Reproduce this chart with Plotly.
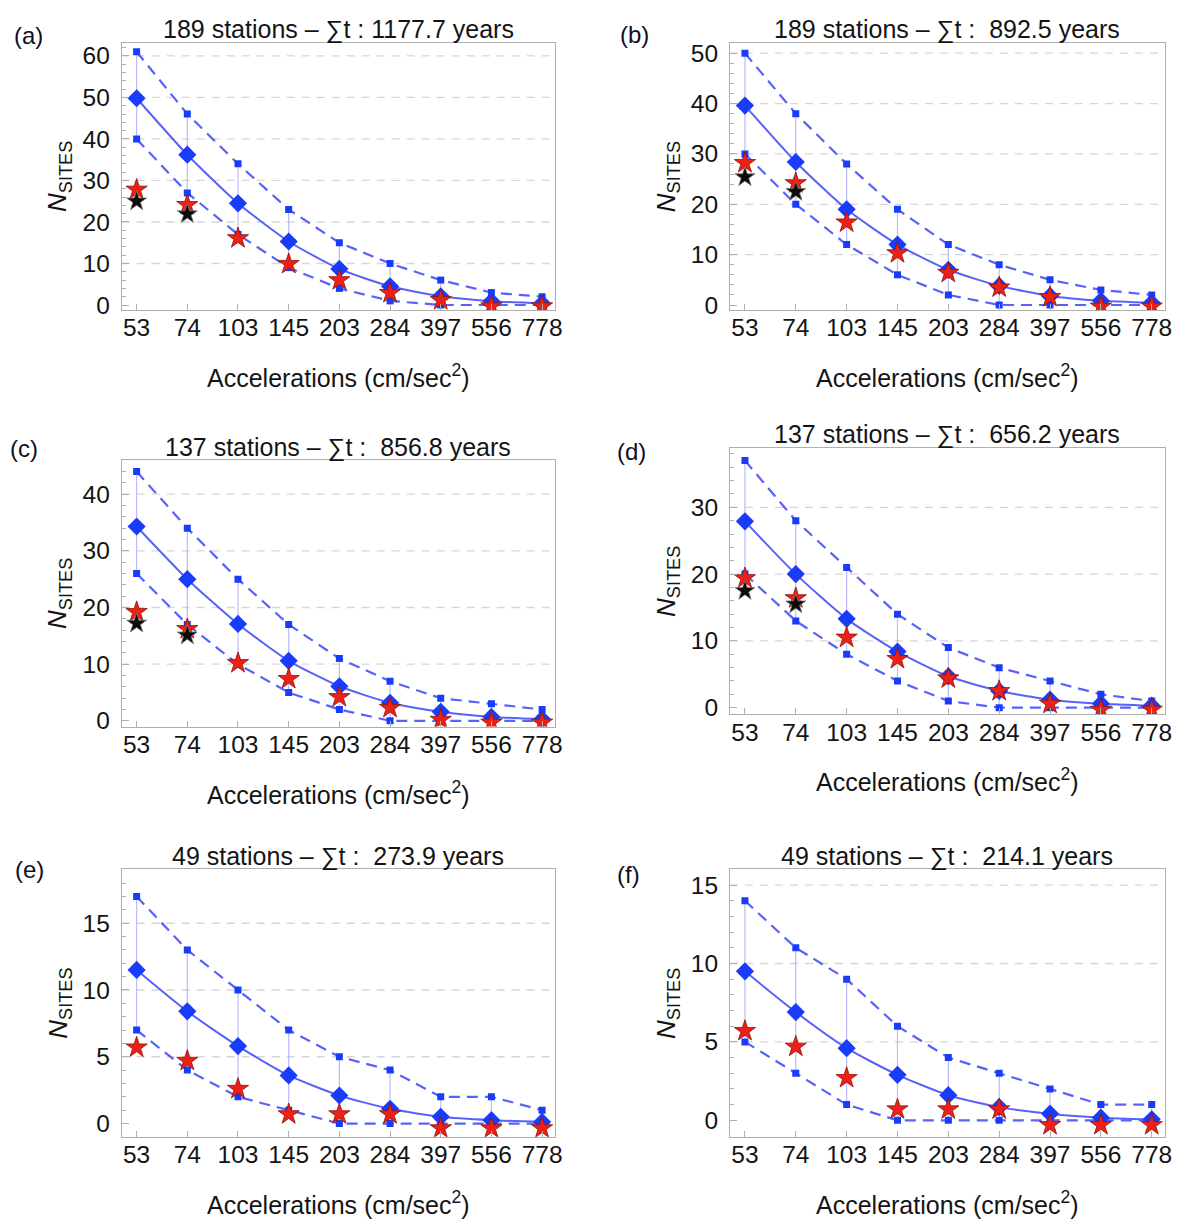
import plotly.graph_objects as go
from plotly.subplots import make_subplots

# Acceleration bins (cm/sec^2) shared by every panel
accel = ["53", "74", "103", "145", "203", "284", "397", "556", "778"]

panel_tags = ["(a)", "(b)", "(c)", "(d)", "(e)", "(f)"]
stations = [189, 189, 137, 137, 49, 49]
total_years = [1177.7, 892.5, 856.8, 656.2, 273.9, 214.1]

# Panel (a)
upper_a = [61, 46, 34, 23, 15, 10, 6, 3, 2]
mean_a = [49.8, 36.2, 24.5, 15.3, 8.7, 4.5, 2.1, 0.9, 0.4]
lower_a = [40, 27, 17, 9, 4, 1, 0, 0, 0]
obs_red_a = [27.8, 24.1, 16.1, 9.9, 6.0, 2.9, 1.2, -0.3, -0.3]
obs_black_a = [25.0, 21.9]

# Panel (b)
upper_b = [50, 38, 28, 19, 12, 8, 5, 3, 2]
mean_b = [39.6, 28.4, 19.0, 12.0, 7.0, 3.8, 1.8, 0.85, 0.45]
lower_b = [30, 20, 12, 6, 2, 0, 0, 0, 0]
obs_red_b = [28.2, 24.2, 16.4, 10.3, 6.4, 3.5, 1.6, -0.3, -0.3]
obs_black_b = [25.4, 22.5]

# Panel (c)
upper_c = [44, 34, 25, 17, 11, 7, 4, 3, 2]
mean_c = [34.3, 25.0, 17.1, 10.6, 6.1, 3.2, 1.6, 0.7, 0.3]
lower_c = [26, 17, 10, 5, 2, 0, 0, 0, 0]
obs_red_c = [19.2, 16.2, 10.2, 7.4, 4.2, 2.3, 0.2, -0.3, -0.3]
obs_black_c = [17.2, 15.1]

# Panel (d)
upper_d = [37, 28, 21, 14, 9, 6, 4, 2, 1]
mean_d = [27.9, 20.0, 13.3, 8.4, 4.7, 2.5, 1.2, 0.6, 0.3]
lower_d = [20, 13, 8, 4, 1, 0, 0, 0, 0]
obs_red_d = [19.4, 16.4, 10.5, 7.3, 4.4, 2.5, 0.6, -0.3, -0.3]
obs_black_d = [17.5, 15.5]

# Panel (e)
upper_e = [17, 13, 10, 7, 5, 4, 2, 2, 1]
mean_e = [11.5, 8.4, 5.8, 3.6, 2.1, 1.1, 0.5, 0.25, 0.12]
lower_e = [7, 4, 2, 1, 0, 0, 0, 0, 0]
obs_red_e = [5.7, 4.7, 2.6, 0.7, 0.7, 0.7, -0.35, -0.35, -0.35]
obs_black_e = []

# Panel (f)
upper_f = [14, 11, 9, 6, 4, 3, 2, 1, 1]
mean_f = [9.5, 6.9, 4.6, 2.9, 1.6, 0.84, 0.42, 0.17, 0.06]
lower_f = [5, 3, 1, 0, 0, 0, 0, 0, 0]
obs_red_f = [5.7, 4.7, 2.7, 0.7, 0.7, 0.7, -0.3, -0.3, -0.3]
obs_black_f = []

# y-axis tick values per panel
yticks_a = [0, 10, 20, 30, 40, 50, 60]
yticks_b = [0, 10, 20, 30, 40, 50]
yticks_c = [0, 10, 20, 30, 40]
yticks_d = [0, 10, 20, 30]
yticks_e = [0, 5, 10, 15]
yticks_f = [0, 5, 10, 15]

panels = [
    (upper_a, mean_a, lower_a, obs_red_a, obs_black_a, yticks_a, 2, [-1.19, 63.2]),
    (upper_b, mean_b, lower_b, obs_red_b, obs_black_b, yticks_b, 2, [-0.98, 52.1]),
    (upper_c, mean_c, lower_c, obs_red_c, obs_black_c, yticks_c, 2, [-1.0, 46.0]),
    (upper_d, mean_d, lower_d, obs_red_d, obs_black_d, yticks_d, 2, [-0.98, 38.9]),
    (upper_e, mean_e, lower_e, obs_red_e, obs_black_e, yticks_e, 1, [-0.99, 19.03]),
    (upper_f, mean_f, lower_f, obs_red_f, obs_black_f, yticks_f, 1, [-1.05, 16.0]),
]

W, H = 1179, 1222
# plot-area frames in pixels: (left, right, top, bottom)
frames = [
    (122.4, 558.6, 40.0, 310.0),
    (734.3, 1171.9, 40.0, 310.0),
    (122.4, 558.6, 461.7, 730.7),
    (734.3, 1171.9, 449.3, 718.3),
    (122.4, 558.6, 875.0, 1145.0),
    (734.3, 1171.9, 875.0, 1145.0),
]
tag_pos = [(29, 33), (638, 32), (24, 450), (635, 453), (30, 875), (632, 880)]

FONT = "Liberation Sans, Arial, Helvetica, sans-serif"
TEXT = "rgb(20,20,20)"
LINE_BLUE = "rgb(88,98,250)"
MARK_BLUE = "rgb(25,60,250)"
BAR_BLUE = "rgba(150,150,255,0.65)"
GRID = "rgb(214,214,214)"
FRAME = "rgb(175,175,175)"

fig = make_subplots(rows=3, cols=2)

for i, (up, mu, lo, red, blk, yt, minor_dt, yr) in enumerate(panels):
    r, c = i // 2 + 1, i % 2 + 1

    # vertical spread bars from lower to upper bound
    fig.add_trace(go.Scatter(
        x=accel, y=mu, mode="markers",
        marker=dict(size=1, color="rgba(0,0,0,0)"),
        error_y=dict(type="data", symmetric=False,
                     array=[u - m for u, m in zip(up, mu)],
                     arrayminus=[m - l for m, l in zip(mu, lo)],
                     width=0, thickness=1.2, color=BAR_BLUE),
        showlegend=False, hoverinfo="skip"), row=r, col=c)

    for bound in (up, lo):
        fig.add_trace(go.Scatter(
            x=accel, y=bound, mode="lines+markers",
            line=dict(color=LINE_BLUE, width=2.2, dash="11px,7px"),
            marker=dict(symbol="square", size=7, color=MARK_BLUE),
            showlegend=False), row=r, col=c)

    fig.add_trace(go.Scatter(
        x=accel, y=mu, mode="lines+markers",
        line=dict(color=LINE_BLUE, width=2, shape="spline", smoothing=0.6),
        marker=dict(symbol="diamond", size=14, color=MARK_BLUE),
        showlegend=False), row=r, col=c)

    fig.add_trace(go.Scatter(
        x=accel, y=red, mode="markers",
        marker=dict(symbol="star", size=16, color="rgb(236,32,22)",
                    line=dict(color="rgb(140,20,10)", width=0.8)),
        showlegend=False), row=r, col=c)

    if blk:
        fig.add_trace(go.Scatter(
            x=accel[:len(blk)], y=blk, mode="markers",
            marker=dict(symbol="star", size=15, color="rgb(10,10,10)",
                        line=dict(color="rgb(120,120,120)", width=0.8)),
            showlegend=False), row=r, col=c)

    # dashed horizontal grid at the labelled levels above zero
    for v in yt:
        if v > 0:
            fig.add_hline(y=v, line=dict(color=GRID, width=1.3, dash="8px,7px"),
                          layer="below", row=r, col=c)

    L, R, T, B = frames[i]
    xd = [L / W, R / W]
    yd = [1 - B / H, 1 - T / H]
    n = "" if i == 0 else str(i + 1)
    fig.layout["xaxis" + n].update(
        domain=xd, range=[-0.295, 8.26], type="category",
        showline=True, mirror=True, linecolor=FRAME, linewidth=1,
        ticks="inside", ticklen=6, tickcolor=FRAME, showgrid=False,
        zeroline=False, ticklabelstandoff=-4,
        tickfont=dict(size=24.5, color=TEXT, family=FONT))
    fig.layout["yaxis" + n].update(
        domain=yd, range=yr, tickvals=yt,
        showline=True, mirror=True, linecolor=FRAME, linewidth=1,
        ticks="inside", ticklen=7, tickcolor=FRAME, showgrid=False,
        zeroline=False, ticklabelstandoff=6,
        minor=dict(dtick=minor_dt, tick0=0, ticklen=4, tickcolor=FRAME, ticks="inside"),
        tickfont=dict(size=24.5, color=TEXT, family=FONT))

    xc = (xd[0] + xd[1]) / 2
    pad = "\u00a0" if total_years[i] < 1000 else ""
    title = f"{stations[i]} stations \u2013 \u2211t : {pad}{total_years[i]:.1f} years"
    fig.add_annotation(text=title, x=xc, y=yd[1], xref="paper", yref="paper",
                       yshift=13, yanchor="middle", xanchor="center", showarrow=False,
                       font=dict(size=25, color=TEXT, family=FONT))
    fig.add_annotation(text="Accelerations (cm/sec<sup>2</sup>)", x=xc, y=yd[0],
                       xref="paper", yref="paper", yshift=-66, yanchor="middle",
                       xanchor="center", showarrow=False,
                       font=dict(size=25, color=TEXT, family=FONT))
    fig.add_annotation(text="<i>N</i><sub>SITES</sub>", x=xd[0], y=(yd[0] + yd[1]) / 2,
                       xref="paper", yref="paper", xshift=-63, textangle=-90,
                       xanchor="center", yanchor="middle", showarrow=False,
                       font=dict(size=26, color=TEXT, family=FONT))
    tx, ty = tag_pos[i]
    fig.add_annotation(text=panel_tags[i], x=tx / W, y=1 - ty / H,
                       xref="paper", yref="paper", xanchor="center", yanchor="middle",
                       showarrow=False,
                       font=dict(size=24, color="rgb(15,15,30)", family=FONT))

fig.update_layout(
    width=W, height=H, margin=dict(l=0, r=0, t=0, b=0),
    paper_bgcolor="white", plot_bgcolor="white", showlegend=False,
    font=dict(family=FONT),
)

fig.write_html("out.html")
